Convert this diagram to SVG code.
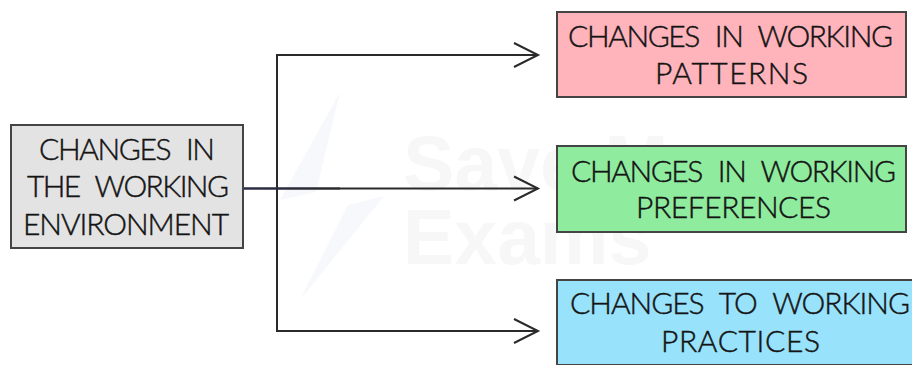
<svg xmlns="http://www.w3.org/2000/svg" width="912" height="365" viewBox="0 0 912 365">
<style>
.box{stroke:#444;stroke-width:2}
.t{font-family:"Lato","Liberation Sans",sans-serif;font-size:30px;font-weight:300;word-spacing:9px;fill:#141414;stroke:#141414;stroke-width:.45}
.w{font-family:"Liberation Sans",sans-serif;font-size:77px;font-weight:700;fill:#f7f7f7}
.c{fill:none;stroke:#2a2a2a;stroke-width:2}
</style>
<defs>
<path id="head" d="M-24,-12 L0,0 L-24,12" fill="none" stroke="#2a2a2a" stroke-width="2"/>
<linearGradient id="tint" gradientUnits="userSpaceOnUse" x1="243" y1="0" x2="340" y2="0">
<stop offset="0" stop-color="#2a2f50"/>
<stop offset="1" stop-color="#2a2a2a"/>
</linearGradient>
</defs>
<rect width="912" height="365" fill="#fff"/>
<g id="watermark">
<path d="M340,92 L280,200 L316,192 Z M384,196 L348,205 L300,300 Z" fill="#f7f8fc"/>
<text class="w" x="403" y="190">Save My</text>
<text class="w" x="403" y="264">Exams</text>
</g>
<g id="connectors">
<path class="c" d="M538,55 H277 V331 H538 M243,188.500 H538"/>
<rect x="243" y="187.500" width="97" height="2" fill="url(#tint)"/>
<use href="#head" x="538" y="55"/>
<use href="#head" x="538" y="188.500"/>
<use href="#head" x="538" y="331"/>
</g>
<g id="node-environment">
<rect class="box" x="11" y="125" width="232" height="123" fill="#e3e3e3"/>
<text class="t" x="39" y="160" textLength="176">CHANGES IN</text>
<text class="t" x="27" y="197" textLength="202">THE WORKING</text>
<text class="t" x="23" y="235" textLength="206">ENVIRONMENT</text>
</g>
<g id="node-patterns">
<rect class="box" x="557" y="12" width="349" height="85" fill="#ffb3bb"/>
<text class="t" x="568" y="47" textLength="325">CHANGES IN WORKING</text>
<text class="t" x="655" y="84" textLength="153">PATTERNS</text>
</g>
<g id="node-preferences">
<rect class="box" x="557" y="146" width="349" height="86" fill="#8fec9f"/>
<text class="t" x="571" y="182" textLength="325">CHANGES IN WORKING</text>
<text class="t" x="636" y="218" textLength="195">PREFERENCES</text>
</g>
<g id="node-practices">
<rect class="box" x="557" y="280" width="360" height="85" fill="#99e2fb"/>
<text class="t" x="570" y="314" textLength="340">CHANGES TO WORKING</text>
<text class="t" x="661" y="352" textLength="159">PRACTICES</text>
</g>
</svg>
